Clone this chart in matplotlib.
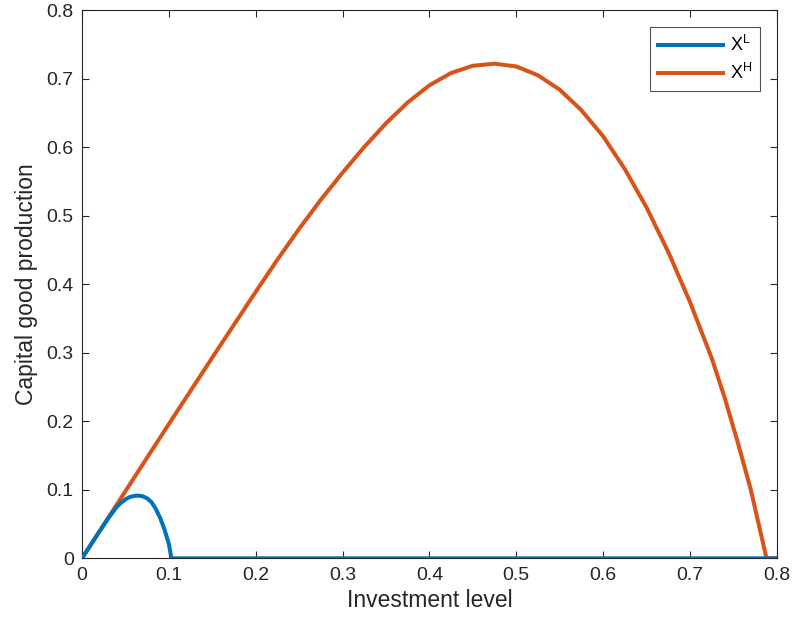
"""Capital good production vs investment level (X^L and X^H)."""

import matplotlib
matplotlib.use("Agg")
import matplotlib.pyplot as plt

# Values
invest_low = [0.0, 0.01, 0.02, 0.03, 0.04, 0.045, 0.05, 0.055, 0.06, 0.065,
              0.07, 0.075, 0.08, 0.085, 0.09, 0.095, 0.1, 0.103, 0.8]
prod_low = [0.0, 0.0195, 0.039, 0.058, 0.075, 0.081, 0.086, 0.0895, 0.091, 0.0915,
            0.0905, 0.0875, 0.082, 0.072, 0.059, 0.042, 0.021, 0.0, 0.0]

invest_high = [0.0, 0.05, 0.1, 0.15, 0.2, 0.225, 0.25, 0.275, 0.3, 0.325,
               0.35, 0.375, 0.4, 0.425, 0.45, 0.475, 0.5, 0.525, 0.55,
               0.575, 0.6, 0.625, 0.65, 0.675, 0.7, 0.725, 0.74, 0.755,
               0.77, 0.788, 0.8]
prod_high = [0.0, 0.098, 0.196, 0.293, 0.389, 0.436, 0.481, 0.5235, 0.563, 0.6005,
             0.635, 0.6655, 0.6905, 0.7085, 0.719, 0.722, 0.718, 0.705, 0.684,
             0.654, 0.616, 0.568, 0.512, 0.447, 0.374, 0.292, 0.234, 0.169,
             0.100, 0.0, 0.0]

x_ticks = [0, 0.1, 0.2, 0.3, 0.4, 0.5, 0.6, 0.7, 0.8]
y_ticks = [0, 0.1, 0.2, 0.3, 0.4, 0.5, 0.6, 0.7, 0.8]
tick_labels = ["0", "0.1", "0.2", "0.3", "0.4", "0.5", "0.6", "0.7", "0.8"]

plt.rcParams["font.family"] = ["Liberation Sans", "DejaVu Sans"]
plt.rcParams["mathtext.fontset"] = "custom"
plt.rcParams["mathtext.rm"] = "Liberation Sans"

dark = "#262626"
blue = "#0072BD"
orange = "#D95319"

fig = plt.figure(figsize=(7.96, 6.30), dpi=100)
ax = fig.add_axes([0.103, 0.1138, 0.873, 0.8699])

ax.plot(invest_low, prod_low, color=blue, lw=2.9, label=r"X$^{\mathrm{L}}$", zorder=3)
ax.plot(invest_high, prod_high, color=orange, lw=2.9, label=r"X$^{\mathrm{H}}$", zorder=2)

ax.set_xlim(0, 0.8)
ax.set_ylim(0, 0.8)
ax.set_xticks(x_ticks)
ax.set_yticks(y_ticks)
ax.set_xticklabels(tick_labels)
ax.set_yticklabels(tick_labels)

ax.tick_params(direction="in", top=True, right=True, length=5, width=0.8,
               colors=dark, labelsize=14, pad=6)
for sp in ax.spines.values():
    sp.set_color(dark)
    sp.set_linewidth(0.8)

ax.set_xlabel("Investment level", fontsize=16.5, color=dark, labelpad=4)
ax.set_ylabel("Capital good production", fontsize=16.5, color=dark, labelpad=6)

leg = ax.legend(loc="upper right", bbox_to_anchor=(0.9755, 0.970), borderaxespad=0,
                fancybox=False, fontsize=13, handlelength=3.6, handletextpad=0.35,
                labelspacing=0.45, borderpad=0.45)
leg.get_frame().set_edgecolor(dark)
leg.get_frame().set_linewidth(0.8)

fig.savefig("out.png", dpi=100)
